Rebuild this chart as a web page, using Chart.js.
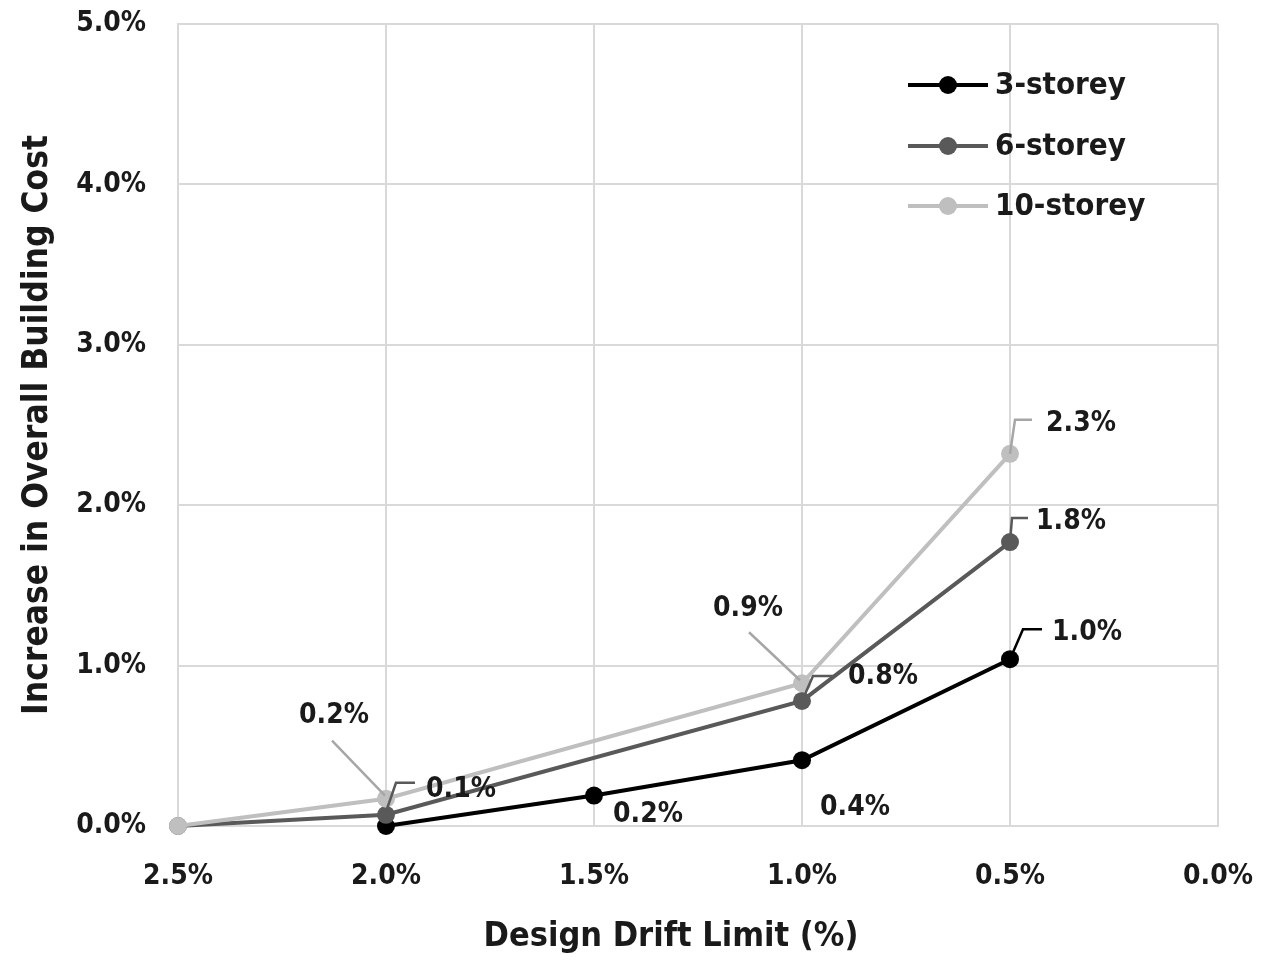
<!DOCTYPE html>
<html>
<head>
<meta charset="utf-8">
<script src="https://cdn.jsdelivr.net/npm/chart.js@4/dist/chart.umd.min.js"></script>
<style>
  body { margin: 0; background: #fff; }
</style>
</head>
<body>
<canvas id="chart" width="1263" height="960"></canvas>
<script>
// drift limits (%) and cost increase (%) per building height
const drift3 = [2.0, 1.5, 1.0, 0.5];
const cost3 = [0.0, 0.19, 0.41, 1.04];
const drift6 = [2.5, 2.0, 1.0, 0.5];
const cost6 = [0.0, 0.07, 0.78, 1.77];
const drift10 = [2.5, 2.0, 1.0, 0.5];
const cost10 = [0.0, 0.17, 0.89, 2.32];
const seriesNames = ["3-storey", "6-storey", "10-storey"];
const xTicks = [2.5, 2.0, 1.5, 1.0, 0.5, 0.0];
const xTitle = "Design Drift Limit (%)";

const FONT = "'DejaVu Sans Condensed', 'Liberation Sans Narrow', sans-serif";
const TEXT = "#1a1a1a";
const colors = ["#000000", "#595959", "#bfbfbf"];
const leaderColors = ["#000000", "#595959", "#a6a6a6"];

// label placement per point (pixel offsets from the point), null = no label
const labelStyle = [
  [null, { dx: 54, dy: 19 }, { dx: 53, dy: 47 }, { dx: 77, dy: -26, path: [[0, 0], [13, -30], [32, -30]] }],
  [null, { dx: 75, dy: -25, path: [[0, -3], [10, -32], [29, -32]] },
         { dx: 81, dy: -24, path: [[0, 0], [11, -25], [33, -25]] },
         { dx: 61, dy: -20, path: [[0, 0], [2, -24], [18, -24]] }],
  [null, { dx: -52, dy: -83, path: [[-54, -58], [-1, -3]] },
         { dx: -54, dy: -75, path: [[-53, -51], [-2, -3]] },
         { dx: 71, dy: -30, path: [[0, 0], [5, -34], [22, -34]] }]
];

function pts(xs, ys) {
  return xs.map((x, i) => ({ x: x, y: ys[i] }));
}

const dataLabels = {
  id: "dataLabels",
  afterDatasetsDraw(chart) {
    const ctx = chart.ctx;
    ctx.save();
    chart.data.datasets.forEach((ds, di) => {
      const meta = chart.getDatasetMeta(di);
      meta.data.forEach((el, i) => {
        const st = labelStyle[di][i];
        if (!st) return;
        if (st.path) {
          ctx.strokeStyle = leaderColors[di];
          ctx.lineWidth = 2.5;
          ctx.beginPath();
          st.path.forEach((p, k) => {
            if (k === 0) ctx.moveTo(el.x + p[0], el.y + p[1]);
            else ctx.lineTo(el.x + p[0], el.y + p[1]);
          });
          ctx.stroke();
        }
        ctx.fillStyle = TEXT;
        ctx.font = "bold 28px " + FONT;
        ctx.textAlign = "center";
        ctx.textBaseline = "middle";
        ctx.fillText(ds.data[i].y.toFixed(1) + "%", el.x + st.dx, el.y + st.dy);
      });
    });
    ctx.restore();
  }
};

// legend inside the plot + x axis title (sits a bit left of the plot centre)
const insideLegend = {
  id: "insideLegend",
  afterDraw(chart) {
    const ctx = chart.ctx;
    const rows = [85, 146, 206];
    ctx.save();
    chart.data.datasets.forEach((ds, di) => {
      const y = rows[di];
      ctx.strokeStyle = ds.borderColor;
      ctx.lineWidth = 4;
      ctx.beginPath();
      ctx.moveTo(908, y);
      ctx.lineTo(988, y);
      ctx.stroke();
      ctx.fillStyle = ds.backgroundColor;
      ctx.beginPath();
      ctx.arc(948, y, 9, 0, Math.PI * 2);
      ctx.fill();
      ctx.fillStyle = TEXT;
      ctx.font = "bold 31px " + FONT;
      ctx.textAlign = "left";
      ctx.textBaseline = "middle";
      ctx.fillText(ds.label, 995, y + 1);
    });
    ctx.font = "bold 34px " + FONT;
    ctx.textAlign = "center";
    ctx.fillText(xTitle, 671, 937);
    ctx.restore();
  }
};

const series = [pts(drift3, cost3), pts(drift6, cost6), pts(drift10, cost10)];

new Chart(document.getElementById("chart").getContext("2d"), {
  type: "line",
  data: {
    datasets: series.map((d, i) => ({
      label: seriesNames[i],
      data: d,
      borderColor: colors[i],
      backgroundColor: colors[i],
      borderWidth: 4,
      pointRadius: 9,
      pointBorderWidth: 0,
      tension: 0,
      clip: false,
      order: 3 - i
    }))
  },
  options: {
    responsive: false,
    animation: false,
    layout: { autoPadding: false, padding: { left: 0, right: 45, top: 24, bottom: 0 } },
    plugins: { legend: { display: false }, tooltip: { enabled: false } },
    scales: {
      x: {
        type: "linear",
        reverse: true,
        min: 0,
        max: 2.5,
        afterBuildTicks: (s) => { s.ticks = xTicks.map(v => ({ value: v })); },
        afterFit: (s) => { s.height = 134; },
        grid: { color: "#d9d9d9", lineWidth: 2, drawTicks: true, tickLength: 34, tickColor: "rgba(0,0,0,0)" },
        border: { color: "#d9d9d9", width: 2 },
        ticks: {
          padding: 0,
          color: TEXT,
          font: { family: FONT, size: 28, weight: "bold" },
          callback: (v) => v.toFixed(1) + "%"
        }
      },
      y: {
        min: 0,
        max: 5,
        afterFit: (s) => { s.width = 178; },
        ticks: {
          stepSize: 1,
          padding: 0,
          color: TEXT,
          font: { family: FONT, size: 28, weight: "bold" },
          callback: (v) => v.toFixed(1) + "%"
        },
        grid: { color: "#d9d9d9", lineWidth: 2, drawTicks: true, tickLength: 32, tickColor: "rgba(0,0,0,0)" },
        border: { color: "#d9d9d9", width: 2 },
        title: {
          display: true,
          text: "Increase in Overall Building Cost",
          color: TEXT,
          font: { family: FONT, size: 35, weight: "bold" },
          padding: { top: 17, bottom: 0 }
        }
      }
    }
  },
  plugins: [dataLabels, insideLegend]
});
</script>
</body>
</html>
